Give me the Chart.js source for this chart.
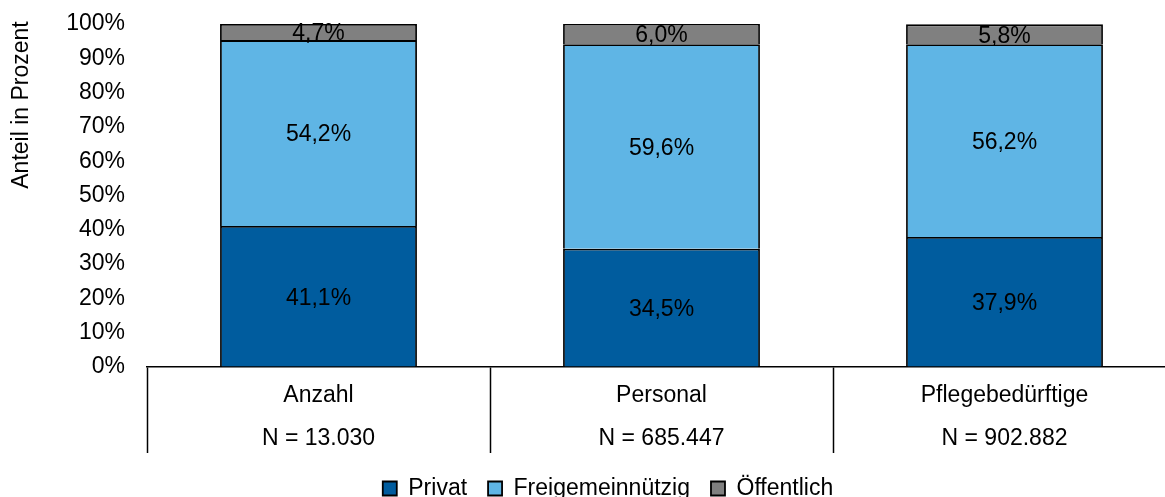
<!DOCTYPE html>
<html>
<head>
<meta charset="utf-8">
<script src="https://cdn.jsdelivr.net/npm/chart.js@4/dist/chart.umd.min.js"></script>
<style>
  html, body { margin: 0; padding: 0; overflow: hidden; background: #fff; }
  #wrap { width: 1216px; height: 510px; }
</style>
</head>
<body>
<div id="wrap"><canvas id="traeger" width="1216" height="510"></canvas></div>
<script>
const categories = ['Anzahl', 'Personal', 'Pflegebedürftige'];
const nLabels = ['N = 13.030', 'N = 685.447', 'N = 902.882'];
const privat = [41.1, 34.5, 37.9];
const freigemeinnuetzig = [54.2, 59.6, 56.2];
const oeffentlich = [4.7, 6.0, 5.8];
const yTicks = [0, 10, 20, 30, 40, 50, 60, 70, 80, 90, 100];

const FONT = 'Liberation Sans, Arial, sans-serif';

// values in the middle of each segment, German decimal comma
const segmentLabels = {
  id: 'segmentLabels',
  afterDatasetsDraw(chart) {
    const ctx = chart.ctx;
    ctx.save();
    ctx.font = '23px ' + FONT;
    ctx.fillStyle = '#000';
    ctx.textAlign = 'center';
    ctx.textBaseline = 'middle';
    chart.data.datasets.forEach((ds, i) => {
      chart.getDatasetMeta(i).data.forEach((bar, j) => {
        const txt = ds.data[j].toFixed(1).replace('.', ',') + '%';
        ctx.fillText(txt, bar.x, (bar.y + bar.base) / 2 + 2);
      });
    });
    ctx.restore();
  }
};

// y axis title, sits toward the top like in the original
const yTitle = {
  id: 'yTitle',
  afterDraw(chart) {
    const ctx = chart.ctx;
    ctx.save();
    ctx.translate(22, 105);
    ctx.rotate(-Math.PI / 2);
    ctx.font = '23px ' + FONT;
    ctx.fillStyle = '#000';
    ctx.textAlign = 'center';
    ctx.textBaseline = 'middle';
    ctx.fillText('Anteil in Prozent', 0, 0);
    ctx.restore();
  }
};

const chart = new Chart(document.getElementById('traeger'), {
  type: 'bar',
  data: {
    labels: categories.map((c, i) => [c, nLabels[i]]),
    datasets: [
      { label: 'Privat', data: privat, backgroundColor: '#005C9E' },
      { label: 'Freigemeinnützig', data: freigemeinnuetzig, backgroundColor: '#5FB5E5' },
      { label: 'Öffentlich', data: oeffentlich, backgroundColor: '#808080' }
    ]
  },
  options: {
    responsive: false,
    animation: false,
    devicePixelRatio: 1,
    layout: { padding: { top: 24, right: 0, left: 0, bottom: 0 } },
    datasets: {
      bar: {
        borderColor: '#000',
        borderWidth: 1.8,
        borderSkipped: 'start',
        categoryPercentage: 1,
        barPercentage: 0.574
      }
    },
    plugins: {
      legend: {
        position: 'bottom',
        labels: {
          boxWidth: 14,
          boxHeight: 14,
          padding: 21,
          color: '#000',
          font: { family: FONT, size: 23 }
        }
      },
      tooltip: { enabled: false }
    },
    scales: {
      x: {
        stacked: true,
        offset: true,
        grid: {
          offset: true,
          drawOnChartArea: false,
          drawTicks: true,
          tickLength: 86,
          tickWidth: 1.5,
          tickColor: '#000'
        },
        border: { display: true, color: '#000', width: 1.5 },
        ticks: {
          color: '#000',
          padding: -78.5,
          maxRotation: 0,
          autoSkip: false,
          font: { family: FONT, size: 23, lineHeight: 1.87 }
        },
        afterFit: s => { s.height = 89; }
      },
      y: {
        stacked: true,
        min: 0,
        max: 100,
        grid: {
          display: true,
          drawOnChartArea: false,
          drawTicks: true,
          tickLength: 22,
          tickColor: 'rgba(0,0,0,0)'
        },
        border: { display: false },
        afterBuildTicks: s => { s.ticks = yTicks.map(v => ({ value: v })); },
        ticks: {
          color: '#000',
          padding: 0,
          font: { family: FONT, size: 23 },
          callback: v => v + '%'
        },
        afterFit: s => { s.width = 147; }
      },
      // empty strip on the right so the plot runs past the window edge
      // while the legend stays centred on the full width
      rightPad: {
        position: 'right',
        min: 0,
        max: 100,
        grid: { display: false },
        border: { display: false },
        ticks: { display: false },
        afterFit: s => { s.width = 40; }
      }
    }
  },
  plugins: [segmentLabels, yTitle]
});
</script>
</body>
</html>
